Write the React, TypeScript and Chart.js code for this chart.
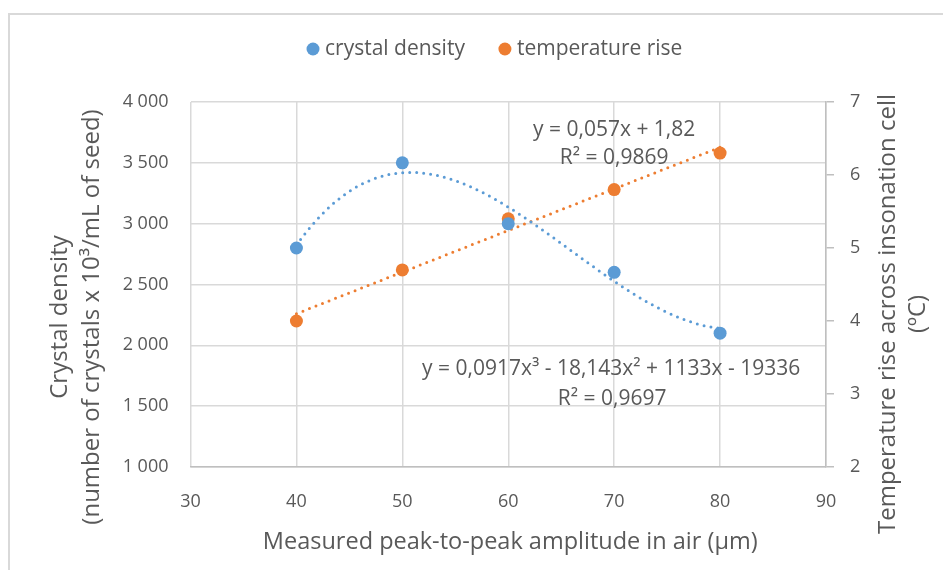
import React, { useEffect, useRef } from 'react';
import { Chart, registerables } from 'chart.js';

Chart.register(...registerables);

// ---- data ----
const amplitudes = [40, 50, 60, 70, 80];
const crystalDensity = [2800, 3500, 3000, 2600, 2100];
const temperatureRise = [4.0, 4.7, 5.4, 5.8, 6.3];
// trendline coefficients as printed on the chart (highest power first)
const densityTrendCoeffs = [0.0917, -18.143, 1133, -19336];
const temperatureTrendCoeffs = [0.057, 1.82];
const trendRange = [40, 80];

const xTickValues = [30, 40, 50, 60, 70, 80, 90];
const leftTickValues = [1000, 1500, 2000, 2500, 3000, 3500, 4000];
const leftTickLabels = ['1 000', '1 500', '2 000', '2 500', '3 000', '3 500', '4 000'];
const rightTickValues = [2, 3, 4, 5, 6, 7];
const rightTickLabels = ['2', '3', '4', '5', '6', '7'];

const seriesLabels = ['crystal density', 'temperature rise'];
const densityEquation = ['y = 0,0917x³ - 18,143x² + 1133x - 19336', 'R² = 0,9697'];
const temperatureEquation = ['y = 0,057x + 1,82', 'R² = 0,9869'];
const xTitle = 'Measured peak-to-peak amplitude in air (µm)';
const leftTitle = ['Crystal density', '(number of crystals x 10³/mL of seed)'];
const rightTitle = ['Temperature rise across insonation cell', '(ºC)'];

// ---- styles ----
const BLUE = '#5B9BD5';
const ORANGE = '#ED7D31';
const TEXT = '#595959';
const GRID = '#D9D9D9';
const AXIS = '#BFBFBF';
const FONT = '"Open Sans", "Noto Sans", sans-serif';

function polyEval(coeffs: number[], x: number) {
  return coeffs.reduce((acc, c) => acc * x + c, 0);
}

function trendPoints(coeffs: number[]) {
  const pts: { x: number; y: number }[] = [];
  for (let x = trendRange[0]; x <= trendRange[1] + 1e-9; x += 0.5) {
    pts.push({ x, y: polyEval(coeffs, x) });
  }
  return pts;
}

function drawRotated(ctx: any, text: string, x: number, y: number) {
  ctx.save();
  ctx.translate(x, y);
  ctx.rotate(-Math.PI / 2);
  ctx.fillText(text, 0, 0);
  ctx.restore();
}

const overlayPlugin = {
  id: 'overlayText',
  afterDraw(chart: any) {
    const { ctx, chartArea: ca, scales } = chart;
    ctx.save();
    // legend
    ctx.font = `21px ${FONT}`;
    ctx.textBaseline = 'middle';
    ctx.textAlign = 'left';
    const colors = [BLUE, ORANGE];
    let lx = 305;
    const ly = 41;
    seriesLabels.forEach((lab, i) => {
      ctx.fillStyle = colors[i];
      ctx.beginPath();
      ctx.arc(lx, ly, 6.5, 0, Math.PI * 2);
      ctx.fill();
      ctx.fillStyle = TEXT;
      ctx.fillText(lab, lx + 12, ly);
      lx += 12 + ctx.measureText(lab).width + 40;
    });

    // x title
    ctx.textAlign = 'center';
    ctx.font = `23.5px ${FONT}`;
    ctx.fillText(xTitle, (ca.left + ca.right) / 2 + 2, 534);

    // left title
    ctx.font = `24px ${FONT}`;
    drawRotated(ctx, leftTitle[0], 52.5, 309);
    drawRotated(ctx, leftTitle[1], 84, 309);

    // right title
    drawRotated(ctx, rightTitle[0], 880, 306);
    drawRotated(ctx, rightTitle[1], 910, 306);

    // trendline equations
    ctx.font = `21px ${FONT}`;
    const ex = scales.x.getPixelForValue(70);
    ctx.fillText(temperatureEquation[0], ex, ca.top + 28);
    ctx.fillText(temperatureEquation[1], ex, ca.top + 56);
    ctx.fillText(densityEquation[0], ex - 3, ca.top + 267);
    ctx.fillText(densityEquation[1], ex - 2, ca.top + 297);
    ctx.restore();
  },
};

export default function App() {
  const canvasRef = useRef<HTMLCanvasElement | null>(null);

  useEffect(() => {
    const canvas = canvasRef.current;
    if (!canvas) return;
    const chart = new Chart(canvas, {
      type: 'scatter',
      data: {
        datasets: [
          {
            label: seriesLabels[0],
            data: amplitudes.map((x, i) => ({ x, y: crystalDensity[i] })),
            yAxisID: 'y',
            backgroundColor: BLUE,
            borderColor: BLUE,
            pointRadius: 6.5,
            pointHoverRadius: 6.5,
            pointBorderWidth: 0,
            showLine: false,
          },
          {
            label: seriesLabels[1],
            data: amplitudes.map((x, i) => ({ x, y: temperatureRise[i] })),
            yAxisID: 'y2',
            backgroundColor: ORANGE,
            borderColor: ORANGE,
            pointRadius: 6.5,
            pointHoverRadius: 6.5,
            pointBorderWidth: 0,
            showLine: false,
          },
          {
            label: 'density trend',
            data: trendPoints(densityTrendCoeffs),
            yAxisID: 'y',
            borderColor: BLUE,
            backgroundColor: BLUE,
            showLine: true,
            pointRadius: 0,
            borderWidth: 3,
            borderDash: [0, 7],
            borderCapStyle: 'round',
            tension: 0,
          },
          {
            label: 'temperature trend',
            data: trendPoints(temperatureTrendCoeffs),
            yAxisID: 'y2',
            borderColor: ORANGE,
            backgroundColor: ORANGE,
            showLine: true,
            pointRadius: 0,
            borderWidth: 3,
            borderDash: [0, 7],
            borderCapStyle: 'round',
            tension: 0,
          },
        ],
      } as any,
      options: {
        animation: false,
        responsive: false,
        maintainAspectRatio: false,
        layout: { padding: { top: 94, left: 0, right: 0, bottom: 0 } },
        plugins: {
          legend: { display: false },
          tooltip: { enabled: false },
          title: { display: false },
        },
        scales: {
          x: {
            type: 'linear',
            min: xTickValues[0],
            max: xTickValues[xTickValues.length - 1],
            afterBuildTicks: (s: any) => {
              s.ticks = xTickValues.map((v) => ({ value: v }));
            },
            ticks: {
              font: { family: FONT, size: 18 },
              color: TEXT,
              padding: 24,
              maxRotation: 0,
              callback: (v: any) => String(v),
            },
            grid: { color: GRID, lineWidth: 1.5, drawTicks: false },
            border: { color: AXIS, width: 1.5 },
            afterFit: (s: any) => {
              s.height = 103;
            },
          },
          y: {
            type: 'linear',
            position: 'left',
            min: leftTickValues[0],
            max: leftTickValues[leftTickValues.length - 1],
            afterBuildTicks: (s: any) => {
              s.ticks = leftTickValues.map((v) => ({ value: v }));
            },
            ticks: {
              font: { family: FONT, size: 18 },
              color: TEXT,
              padding: 22,
              callback: (v: any) => leftTickLabels[leftTickValues.indexOf(v)] ?? '',
            },
            grid: { color: GRID, lineWidth: 1.5, drawTicks: false },
            border: { display: false },
            afterFit: (s: any) => {
              s.width = 182.5;
            },
          },
          y2: {
            type: 'linear',
            position: 'right',
            min: rightTickValues[0],
            max: rightTickValues[rightTickValues.length - 1],
            afterBuildTicks: (s: any) => {
              s.ticks = rightTickValues.map((v) => ({ value: v }));
            },
            ticks: {
              font: { family: FONT, size: 18 },
              color: TEXT,
              padding: 16,
              callback: (v: any) => rightTickLabels[rightTickValues.indexOf(v)] ?? '',
            },
            grid: {
              drawOnChartArea: false,
              drawTicks: true,
              tickLength: 8,
              color: AXIS,
              lineWidth: 1.5,
            },
            border: { color: AXIS, width: 1.5 },
            afterFit: (s: any) => {
              s.width = 125;
            },
          },
        },
      } as any,
      plugins: [overlayPlugin],
    });
    return () => chart.destroy();
  }, []);

  return (
    <div style={{ position: 'relative', width: 943, height: 562, overflow: 'hidden' }}>
      <div
        style={{
          position: 'absolute',
          left: 0,
          top: 5,
          width: 2000,
          height: 2000,
          border: '2px solid #D9D9D9',
          boxSizing: 'border-box',
        }}
      />
      <canvas
        ref={canvasRef}
        width={943}
        height={562}
        style={{ position: 'absolute', left: 0, top: 0, width: 943, height: 562 }}
      />
    </div>
  );
}
